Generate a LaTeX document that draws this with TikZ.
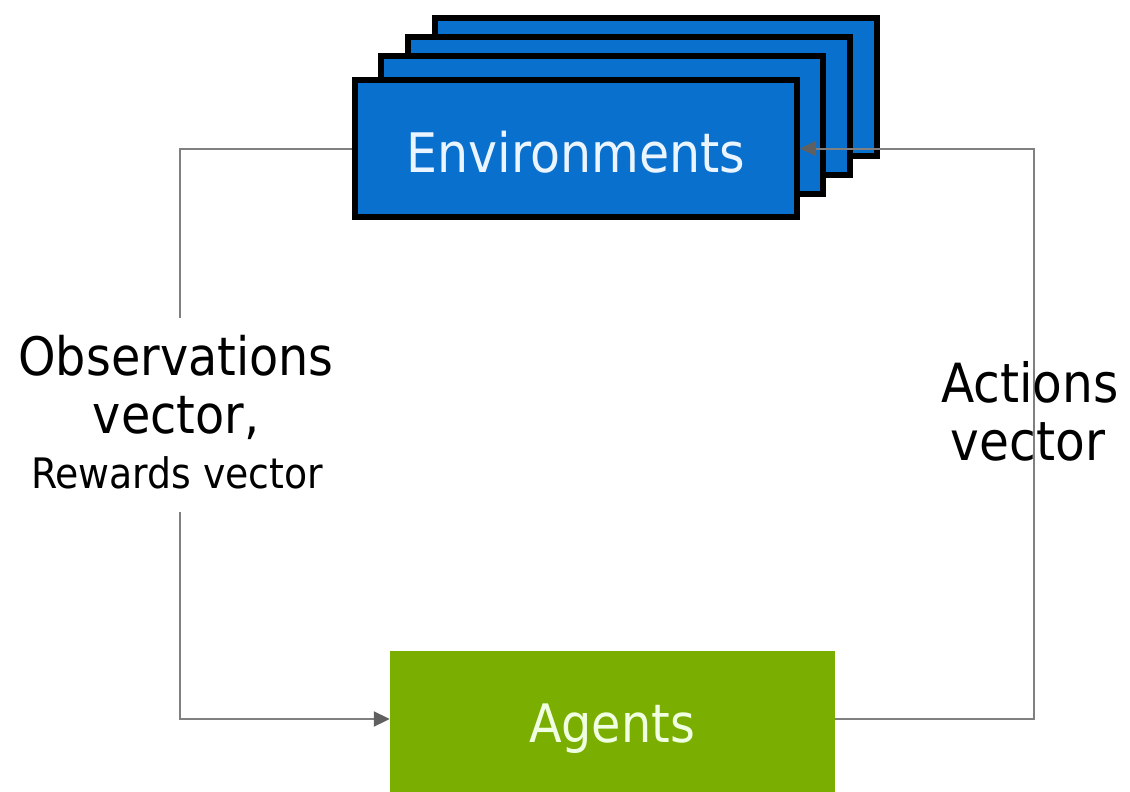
\documentclass[tikz,border=0pt]{standalone}
\usepackage{fontspec}
\setmainfont{DejaVu Sans Condensed}
\usetikzlibrary{arrows.meta}
\definecolor{envblue}{RGB}{10,112,206}
\definecolor{aggreen}{RGB}{122,174,0}
\definecolor{lineg}{RGB}{128,128,128}
\definecolor{tipg}{RGB}{96,96,96}
\definecolor{agtext}{RGB}{240,255,225}
\definecolor{envtext}{RGB}{235,245,255}
\tikzset{
  envbox/.style={draw=black, fill=envblue, line width=6pt, minimum width=442pt, minimum height=137pt, inner sep=0pt},
  agbox/.style={fill=aggreen, minimum width=445pt, minimum height=148pt, inner sep=0pt},
  conn/.style={draw=lineg, line width=2pt},
  arr/.style={-{Triangle[length=16pt,width=15pt,fill=tipg,color=tipg]}},
  lbl/.style={anchor=base, inner sep=0pt, text=black},
}
\begin{document}
\begin{tikzpicture}[x=1pt,y=-1pt]
\useasboundingbox (0,0) rectangle (1130,792);
% environment stack
\node[envbox] (e4) at (656,87) {};
\node[envbox] (e3) at (629,106) {};
\node[envbox] (e2) at (602,125) {};
\node[envbox] (e1) at (576,148.5) {};
\node[anchor=base, inner sep=0pt, text=envtext, font=\fontsize{54.5}{60}\selectfont] (envt) at (576,172) {Environments};
% agents
\node[agbox] (ag) at (612.5,725) {};
\node[anchor=base, inner sep=0pt, text=agtext, font=\fontsize{53}{60}\selectfont] (agt) at (612,742) {Agents};
% coordinates
\coordinate (rc) at (1034,719);
\coordinate (lt) at (180,318);
\coordinate (lb) at (180,512);
\coordinate (lb2) at (180,719);
% connectors
\draw[conn] (e1.west) -| (lt);
\draw[conn,arr] (lb) -- (lb2) -- (ag.west |- lb2);
\draw[conn,arr] (ag.east |- rc) -- (rc) |- (e1.east);
% labels
\node[lbl, font=\fontsize{53}{60}\selectfont] (obs1) at (176,375) {Observations};
\node[lbl, font=\fontsize{53}{60}\selectfont] (obs2) at (176,433) {vector,};
\node[lbl, font=\fontsize{42}{48}\selectfont] (obs3) at (177,488) {Rewards vector};
\node[lbl, font=\fontsize{54}{60}\selectfont] (act1) at (1030,402) {Actions};
\node[lbl, font=\fontsize{54}{60}\selectfont] (act2) at (1028,460) {vector};
\end{tikzpicture}
\end{document}
